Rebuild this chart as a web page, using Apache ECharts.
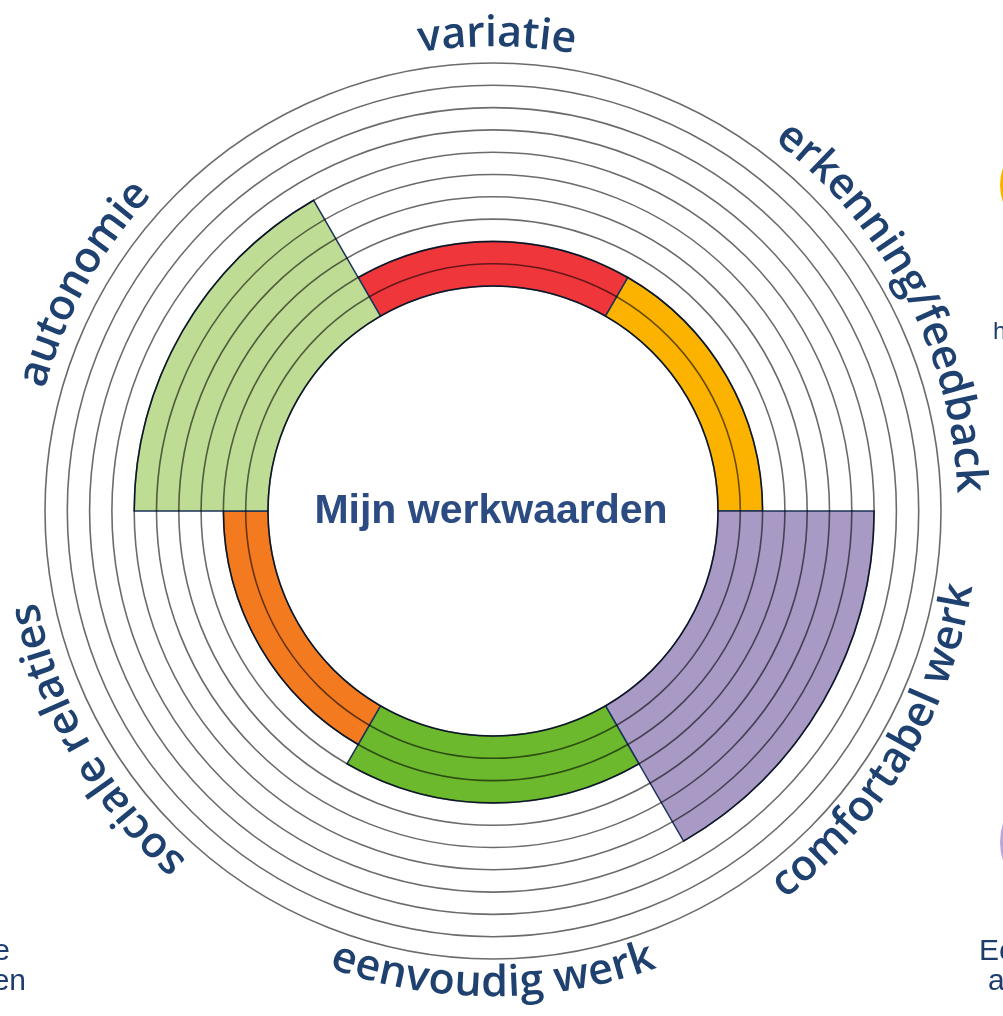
<!DOCTYPE html>
<html>
<head>
<meta charset="utf-8">
<script src="https://cdn.jsdelivr.net/npm/echarts@6/dist/echarts.min.js"></script>
<style>
html,body{margin:0;padding:0;background:#ffffff;}
#chart{width:1003px;height:1016px;}
</style>
</head>
<body>
<div id="chart"></div>
<script>
// ---- data ----
const categories = ['variatie', 'erkenning/feedback', 'comfortabel werk', 'eenvoudig werk', 'sociale relaties', 'autonomie'];
const scores = [2, 2, 7, 3, 2, 6];
const scaleMin = 0;
const scaleMax = 10;
const ringStep = 1;
const centerTitle = 'Mijn werkwaarden';
// cropped fragments of surrounding page visible at the edges
const edgeTextsLeft = ['e', 'en'];
const edgeTextsRight = ['h', 'Ee', 'a'];

// ---- styles ----
const barColors = ['#EF363A', '#FBB300', '#A899C5', '#6CB92D', '#F47A1F', '#BFDC94'];
const labelFlow = ['cw', 'cw', 'ccw', 'ccw', 'cw', 'cw']; // cw: tops outward, ccw: tops inward
const labelAngleNudge = [0.5, 2.5, 1, 0, 0, -1];          // degrees
const CX = 493, CY = 511, R_IN = 225, R_OUT = 448;
const LABEL_R_OUTWARD = 472;
const LABEL_R_INWARD = 478;
const LABEL_SIZE = 43;
const LABEL_FAMILY = '"Open Sans", "Noto Sans", sans-serif';
const LABEL_WEIGHT = 600;
const LABEL_COLOR = '#1F4170';
const EDGE_COLOR = '#1E3D6E';

const chart = echarts.init(document.getElementById('chart'), null, {renderer: 'canvas'});

const measure = document.createElement('canvas').getContext('2d');
measure.font = LABEL_WEIGHT + ' ' + LABEL_SIZE + 'px ' + LABEL_FAMILY;

const graphics = [];
const n = categories.length;
categories.forEach(function (name, i) {
  const dir = labelFlow[i] === 'cw' ? 1 : -1;
  const rText = dir === 1 ? LABEL_R_OUTWARD : LABEL_R_INWARD;
  const theta0 = (i * 360 / n + labelAngleNudge[i]) * Math.PI / 180;
  const rAnchor = rText + dir * 5;
  const total = measure.measureText(name).width;
  const chars = Array.from(name);
  chars.forEach(function (c, k) {
    if (c.trim() === '') return;
    const pre = measure.measureText(name.slice(0, k)).width;
    const w = measure.measureText(c).width;
    const mid = pre + w / 2 - total / 2;
    const th = theta0 + dir * mid / rText;
    graphics.push({
      type: 'text',
      x: CX + rAnchor * Math.sin(th),
      y: CY - rAnchor * Math.cos(th),
      rotation: dir === 1 ? -th : -(th + Math.PI),
      silent: true,
      z: 20,
      style: {
        text: c,
        fontSize: LABEL_SIZE,
        fontFamily: LABEL_FAMILY,
        fontWeight: LABEL_WEIGHT,
        fill: LABEL_COLOR,
        align: 'center',
        verticalAlign: 'middle'
      }
    });
  });
});

// centre title
graphics.push({
  type: 'text', x: 491, y: 512, silent: true, z: 20,
  style: {
    text: centerTitle, fontSize: 41, fontWeight: 'bold',
    fontFamily: '"Liberation Sans", Arial, sans-serif',
    fill: '#2B4B82', align: 'center', verticalAlign: 'middle'
  }
});

// edge fragments
graphics.push({type: 'circle', silent: true, shape: {cx: 1052, cy: 185, r: 52}, style: {fill: '#FBB300'}});
graphics.push({type: 'circle', silent: true, shape: {cx: 1062, cy: 842, r: 62}, style: {fill: '#BCA6D9'}});
const edgeFont = '"Liberation Sans", Arial, sans-serif';
[[edgeTextsLeft[0], 10, 962], [edgeTextsLeft[1], 26, 992]].forEach(function (t) {
  graphics.push({type: 'text', x: t[1], y: t[2] - 10.5, silent: true,
    style: {text: t[0], fontSize: 30, fontFamily: edgeFont, fill: EDGE_COLOR, align: 'right', verticalAlign: 'middle'}});
});
graphics.push({type: 'text', x: 993, y: 340 - 8, silent: true,
  style: {text: edgeTextsRight[0], fontSize: 24, fontFamily: edgeFont, fill: EDGE_COLOR, align: 'left', verticalAlign: 'middle'}});
graphics.push({type: 'text', x: 979, y: 962 - 10.5, silent: true,
  style: {text: edgeTextsRight[1], fontSize: 30, fontFamily: edgeFont, fill: EDGE_COLOR, align: 'left', verticalAlign: 'middle'}});
graphics.push({type: 'text', x: 988, y: 992 - 10.5, silent: true,
  style: {text: edgeTextsRight[2], fontSize: 30, fontFamily: edgeFont, fill: EDGE_COLOR, align: 'left', verticalAlign: 'middle'}});

const option = {
  animation: false,
  backgroundColor: '#ffffff',
  polar: {center: [CX, CY], radius: [R_IN, R_OUT]},
  angleAxis: {
    type: 'category',
    data: categories,
    startAngle: 90 + 180 / n,
    clockwise: true,
    axisLine: {show: false},
    axisTick: {show: false},
    axisLabel: {show: false},
    splitLine: {show: false},
    splitArea: {show: false}
  },
  radiusAxis: {
    type: 'value',
    min: scaleMin,
    max: scaleMax,
    interval: ringStep,
    z: 10,
    axisLine: {show: false},
    axisTick: {show: false},
    axisLabel: {show: false},
    splitArea: {show: false},
    splitLine: {show: true, lineStyle: {color: 'rgba(0,0,0,0.58)', width: 1.6}}
  },
  series: [{
    type: 'bar',
    coordinateSystem: 'polar',
    barCategoryGap: '0%',
    silent: true,
    data: scores.map(function (v, i) { return {value: v, itemStyle: {color: barColors[i]}}; }),
    itemStyle: {borderColor: '#1B3358', borderWidth: 1.5}
  }],
  graphic: {elements: graphics}
};
chart.setOption(option);
</script>
</body>
</html>
